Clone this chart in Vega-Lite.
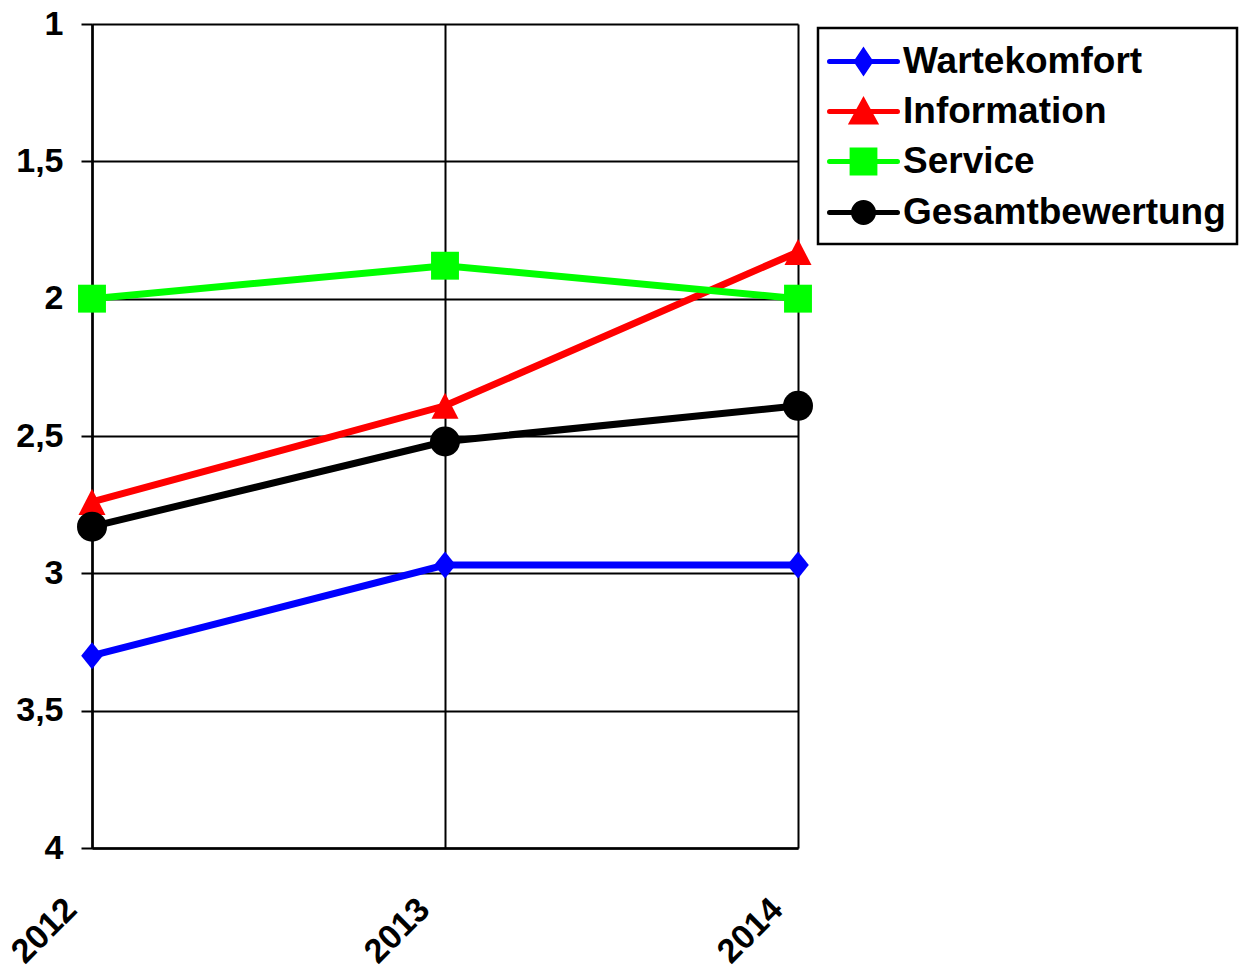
{
  "$schema": "https://vega.github.io/schema/vega-lite/v6.json",
  "width": 706,
  "height": 824,
  "autosize": {"type": "none"},
  "padding": {"left": 92, "top": 24, "right": 444, "bottom": 121},
  "background": "white",
  "config": {"view": {"stroke": null}, "font": "Liberation Sans"},
  "data": {
    "values": [
      {"year": "2012", "series": "Wartekomfort", "value": 3.30},
      {"year": "2013", "series": "Wartekomfort", "value": 2.97},
      {"year": "2014", "series": "Wartekomfort", "value": 2.97},
      {"year": "2012", "series": "Information", "value": 2.74},
      {"year": "2013", "series": "Information", "value": 2.39},
      {"year": "2014", "series": "Information", "value": 1.83},
      {"year": "2012", "series": "Service", "value": 2.00},
      {"year": "2013", "series": "Service", "value": 1.88},
      {"year": "2014", "series": "Service", "value": 2.00},
      {"year": "2012", "series": "Gesamtbewertung", "value": 2.83},
      {"year": "2013", "series": "Gesamtbewertung", "value": 2.52},
      {"year": "2014", "series": "Gesamtbewertung", "value": 2.39}
    ]
  },
  "encoding": {
    "x": {
      "field": "year", "type": "ordinal",
      "scale": {"type": "point", "padding": 0},
      "axis": {
        "title": null, "labelAngle": -45, "labelAlign": "right", "labelBaseline": "middle",
        "labelPadding": 56, "labelOffset": -21,
        "labelFontSize": 34, "labelFontWeight": "bold", "labelColor": "black", "labelFont": "Liberation Sans",
        "ticks": false, "domainColor": "black", "domainWidth": 2.5,
        "grid": true, "gridColor": "black", "gridWidth": 2, "gridOpacity": 1
      }
    },
    "y": {
      "field": "value", "type": "quantitative",
      "scale": {"domain": [1, 4], "reverse": true, "nice": false, "zero": false},
      "axis": {
        "title": null, "values": [1, 1.5, 2, 2.5, 3, 3.5, 4],
        "labelExpr": "replace(toString(datum.value), '.', ',')",
        "labelFontSize": 34, "labelFontWeight": "bold", "labelColor": "black", "labelFont": "Liberation Sans",
        "labelPadding": 18,
        "ticks": true, "tickSize": 11, "tickWidth": 2, "tickColor": "black",
        "domainColor": "black", "domainWidth": 2.5,
        "grid": true, "gridColor": "black", "gridWidth": 2, "gridOpacity": 1
      }
    },
    "color": {
      "field": "series", "type": "nominal",
      "scale": {
        "domain": ["Wartekomfort", "Information", "Service", "Gesamtbewertung"],
        "range": ["#0000ff", "#ff0000", "#00ff00", "#000000"]
      },
      "legend": {
        "title": null, "orient": "none", "legendX": 726, "legendY": 4,
        "strokeColor": "black", "fillColor": "white", "padding": 11,
        "labelFontSize": 37, "labelFontWeight": "bold", "labelColor": "black", "labelFont": "Liberation Sans",
        "labelLimit": 600,
        "symbolSize": 1600, "symbolStrokeWidth": 5, "symbolOffset": 12, "labelOffset": 17,
        "rowPadding": 7,
        "encode": {
          "legend": {"update": {"strokeWidth": {"value": 2.5}}},
          "symbols": {
            "update": {
              "shape": {"signal": "datum.value === 'Wartekomfort' ? 'M-1.7,0H1.7M0,-0.52L0.35,0L0,0.52L-0.35,0Z' : datum.value === 'Information' ? 'M-1.7,0H1.7M0,-0.52L0.57,0.52L-0.57,0.52Z' : datum.value === 'Service' ? 'M-1.7,0H1.7M-0.57,-0.57H0.57V0.57H-0.57Z' : 'M-1.7,0H1.7M-0.5,0A0.5,0.5 0 1,1 0.5,0A0.5,0.5 0 1,1 -0.5,0Z'"},
              "fill": {"scale": "color", "field": "value"},
              "stroke": {"scale": "color", "field": "value"},
              "strokeWidth": {"value": 5},
              "strokeCap": {"value": "round"},
              "opacity": {"value": 1},
              "fillOpacity": {"value": 1},
              "strokeOpacity": {"value": 1}
            }
          }
        }
      }
    }
  },
  "layer": [
    {"mark": {"type": "line", "strokeWidth": 7}},
    {
      "transform": [{"filter": "datum.series === 'Wartekomfort'"}],
      "mark": {"type": "point", "filled": true, "opacity": 1, "size": 900, "strokeWidth": 0, "shape": "M0,-0.9L0.72,0L0,0.9L-0.72,0Z"}
    },
    {
      "transform": [{"filter": "datum.series === 'Information'"}],
      "mark": {"type": "point", "filled": true, "opacity": 1, "size": 900, "strokeWidth": 0, "shape": "M0,-0.87L0.9,0.87L-0.9,0.87Z"}
    },
    {
      "transform": [{"filter": "datum.series === 'Service'"}],
      "mark": {"type": "point", "filled": true, "opacity": 1, "size": 900, "strokeWidth": 0, "shape": "M-0.93,-0.93H0.93V0.93H-0.93Z"}
    },
    {
      "transform": [{"filter": "datum.series === 'Gesamtbewertung'"}],
      "mark": {"type": "point", "filled": true, "opacity": 1, "size": 900, "strokeWidth": 0, "shape": "circle"}
    }
  ]
}
